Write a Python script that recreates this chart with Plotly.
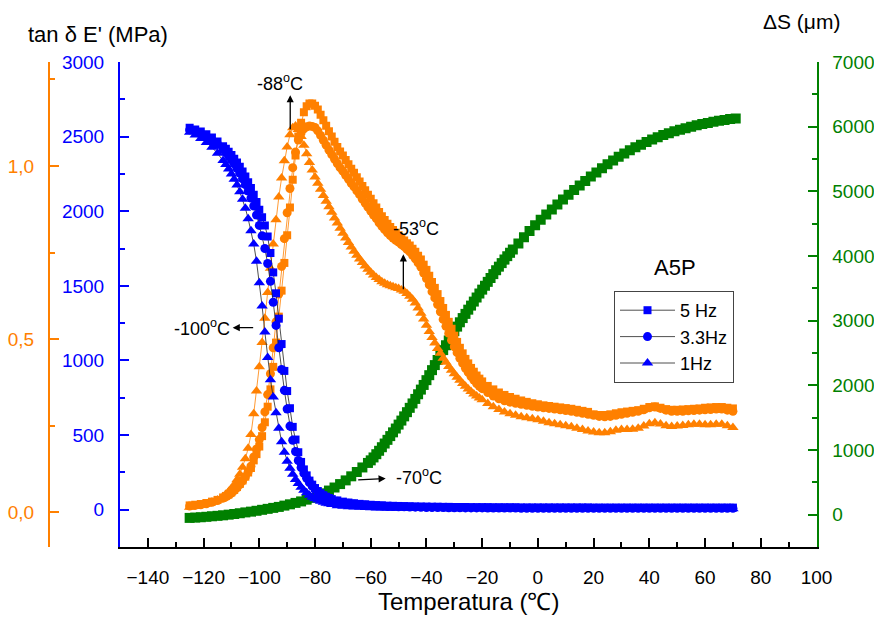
import plotly.graph_objects as go

# ---------------- data ----------------
# temperature grid (°C) for the E' series
T = [-125, -123, -121, -119, -117, -115, -113] + list(range(-112, -73)) + list(range(-72, 71, 2))
# temperature grid (°C) for the tan delta series
T_tan = [-125, -123, -121, -119, -117, -115, -113] + list(range(-112, -19)) + list(range(-18, 71, 2))

# E' (MPa)
E_5Hz = [2560, 2548, 2534, 2516, 2494, 2468, 2436,
         2418, 2398, 2376, 2352, 2326, 2298, 2266, 2232, 2195, 2155,
         2110, 2062, 2010, 1960, 1905, 1830, 1720, 1590, 1450, 1280,
         1110, 930, 795, 680, 555, 470, 385, 320, 270, 230,
         195, 168, 145, 125, 110, 97, 87, 78, 71,
         62, 54, 48, 43, 39, 36, 33, 31, 29, 27,
         26, 25, 24, 23, 22, 21, 21, 20, 20, 19,
         19, 18, 18, 18, 17, 17, 17, 17, 16, 16,
         16, 16, 16, 15, 15, 15,
         15, 15, 15, 15, 15, 15, 15, 15, 15, 15,
         14, 14, 14, 14, 14, 14, 14, 14, 14, 14,
         14, 14, 14, 14, 14, 14, 14, 14, 14, 14,
         14, 14, 14, 14, 14, 14]
E_33Hz = [2545, 2532, 2517, 2498, 2475, 2447, 2413,
          2393, 2370, 2345, 2318, 2288, 2255, 2218, 2178, 2135, 2088,
          2035, 1975, 1905, 1835, 1750, 1650, 1530, 1390, 1235, 1085,
          940, 800, 675, 560, 465, 390, 330, 282, 243, 210,
          182, 158, 138, 120, 105, 93, 83, 74, 67,
          57, 49, 43, 38, 34, 31, 28, 26, 24, 22,
          21, 20, 19, 18, 17, 16, 15, 15, 14, 14,
          13, 13, 13, 12, 12, 12, 12, 11, 11, 11,
          11, 11, 11, 10, 10, 10,
          10, 10, 10, 10, 10, 10, 10, 10, 10, 10,
          10, 10, 10, 10, 10, 10, 10, 10, 10, 10,
          10, 10, 10, 10, 10, 10, 10, 10, 10, 10,
          10, 10, 10, 10, 10, 10]
E_1Hz = [2530, 2510, 2488, 2460, 2428, 2388, 2340,
         2313, 2283, 2250, 2215, 2175, 2130, 2080, 2020, 1950, 1870,
         1780, 1665, 1520, 1365, 1190, 1020, 870, 755, 650, 545,
         455, 385, 325, 277, 237, 203, 175, 150, 130, 113,
         96, 84, 74, 65, 57, 50, 44, 39, 34,
         27, 23, 20, 18, 16, 14, 13, 12, 11, 10,
         10, 9, 9, 9, 8, 8, 8, 8, 8, 7,
         7, 7, 7, 7, 7, 7, 7, 7, 7, 7,
         6, 6, 6, 6, 6, 6,
         6, 6, 6, 6, 6, 6, 6, 6, 6, 6,
         6, 6, 6, 6, 6, 6, 6, 6, 6, 6,
         6, 6, 6, 6, 6, 6, 6, 6, 6, 6,
         6, 6, 6, 6, 6, 6]

# tan delta
tan_5Hz = [0.020, 0.022, 0.024, 0.027, 0.031, 0.036, 0.043,
           0.047, 0.052, 0.058, 0.065, 0.073, 0.082, 0.092, 0.103, 0.115, 0.128,
           0.150, 0.168, 0.190, 0.220, 0.260, 0.305, 0.355, 0.420, 0.490, 0.565,
           0.640, 0.720, 0.800, 0.880, 0.960, 1.030, 1.085, 1.125, 1.155, 1.172,
           1.180, 1.180, 1.174, 1.163, 1.148, 1.132, 1.116, 1.100, 1.085, 1.070,
           1.055, 1.042, 1.030, 1.017, 1.005, 0.992, 0.980, 0.967, 0.955, 0.942,
           0.930, 0.917, 0.905, 0.892, 0.880, 0.867, 0.855, 0.844, 0.833, 0.824,
           0.815, 0.807, 0.800, 0.792, 0.785, 0.777, 0.770, 0.761, 0.752, 0.741,
           0.730, 0.715, 0.700, 0.683, 0.665, 0.648, 0.630, 0.610, 0.590, 0.570,
           0.550, 0.530, 0.510, 0.492, 0.475, 0.459, 0.443, 0.430, 0.417, 0.406,
           0.395, 0.386, 0.378,
           0.365, 0.355, 0.346, 0.339, 0.333, 0.328, 0.323, 0.319, 0.315,
           0.312, 0.309, 0.307, 0.305, 0.303, 0.301, 0.299, 0.296, 0.293, 0.290,
           0.283, 0.281, 0.281, 0.283, 0.286, 0.289, 0.291, 0.293, 0.295, 0.299,
           0.304, 0.306, 0.302, 0.298, 0.296, 0.296, 0.297, 0.298, 0.299, 0.300,
           0.302, 0.303, 0.304, 0.304, 0.302, 0.300]
tan_33Hz = [0.018, 0.020, 0.022, 0.025, 0.029, 0.034, 0.041,
            0.045, 0.050, 0.056, 0.063, 0.071, 0.080, 0.091, 0.103, 0.117, 0.133,
            0.160, 0.183, 0.210, 0.245, 0.290, 0.340, 0.400, 0.475, 0.550, 0.630,
            0.710, 0.790, 0.865, 0.935, 0.995, 1.040, 1.075, 1.095, 1.107, 1.113,
            1.115, 1.114, 1.111, 1.101, 1.088, 1.074, 1.060, 1.046, 1.033, 1.020,
            1.007, 0.995, 0.985, 0.973, 0.962, 0.950, 0.940, 0.928, 0.917, 0.904,
            0.893, 0.881, 0.870, 0.858, 0.848, 0.836, 0.826, 0.816, 0.807, 0.799,
            0.792, 0.785, 0.780, 0.773, 0.767, 0.759, 0.752, 0.742, 0.732, 0.720,
            0.708, 0.691, 0.675, 0.657, 0.637, 0.619, 0.600, 0.579, 0.557, 0.537,
            0.517, 0.497, 0.478, 0.461, 0.445, 0.430, 0.416, 0.404, 0.392, 0.382,
            0.372, 0.364, 0.357,
            0.346, 0.336, 0.328, 0.322, 0.318, 0.315, 0.312, 0.309, 0.306,
            0.304, 0.302, 0.300, 0.298, 0.296, 0.294, 0.292, 0.289, 0.286, 0.283,
            0.280, 0.277, 0.276, 0.277, 0.280, 0.283, 0.286, 0.289, 0.292, 0.296,
            0.302, 0.304, 0.300, 0.295, 0.292, 0.292, 0.292, 0.293, 0.294, 0.295,
            0.296, 0.297, 0.298, 0.298, 0.295, 0.292]
tan_1Hz = [0.015, 0.017, 0.020, 0.024, 0.029, 0.036, 0.046,
           0.052, 0.060, 0.069, 0.080, 0.094, 0.110, 0.130, 0.155, 0.185, 0.225,
           0.285, 0.350, 0.420, 0.490, 0.560, 0.635, 0.705, 0.775, 0.845, 0.910,
           0.965, 1.015, 1.055, 1.090, 1.110, 1.115, 1.105, 1.085, 1.060, 1.035,
           1.010, 0.988, 0.968, 0.950, 0.933, 0.915, 0.898, 0.882, 0.866, 0.850,
           0.835, 0.820, 0.806, 0.792, 0.779, 0.766, 0.754, 0.742, 0.731, 0.721,
           0.711, 0.702, 0.693, 0.685, 0.678, 0.672, 0.666, 0.661, 0.657, 0.654,
           0.651, 0.648, 0.646, 0.642, 0.638, 0.632, 0.624, 0.615, 0.604, 0.590,
           0.575, 0.558, 0.540, 0.522, 0.505, 0.489, 0.473, 0.459, 0.445, 0.433,
           0.421, 0.410, 0.400, 0.390, 0.381, 0.372, 0.364, 0.356, 0.349, 0.342,
           0.336, 0.330, 0.325,
           0.314, 0.305, 0.297, 0.290, 0.285, 0.280, 0.276, 0.273, 0.270,
           0.267, 0.263, 0.259, 0.256, 0.253, 0.250, 0.247, 0.243, 0.239, 0.235,
           0.232, 0.230, 0.230, 0.233, 0.237, 0.239, 0.239, 0.240, 0.243, 0.249,
           0.256, 0.259, 0.255, 0.250, 0.248, 0.249, 0.251, 0.253, 0.254, 0.254,
           0.253, 0.253, 0.254, 0.254, 0.250, 0.245]

# Delta S (um)
T_S = list(range(-125, -60, 2)) + list(range(-60, -9)) + list(range(-9, 72, 2))
dS = [-50, -45, -40, -33, -25, -18, -10, 0, 10, 22,
      35, 47, 60, 75, 90, 105, 120, 140, 160, 182,
      205, 232, 260, 293, 330, 373, 420, 473, 530, 593,
      660, 730, 800,
      840, 885, 935, 988, 1043, 1100, 1157, 1215, 1273, 1332,
      1393, 1455, 1520, 1585, 1652, 1720, 1790, 1862, 1934, 2006,
      2080, 2157, 2235, 2313, 2392, 2470, 2545, 2620, 2694, 2768,
      2838, 2908, 2975, 3040, 3105, 3170, 3233, 3295, 3358, 3420,
      3480, 3540, 3600, 3660, 3720, 3780, 3835, 3890, 3944, 3998,
      4049,
      4100, 4195, 4290, 4385, 4475, 4562, 4642, 4720, 4798, 4873,
      4946, 5020, 5090, 5160, 5228, 5293, 5358, 5420, 5478, 5535,
      5585, 5635, 5680, 5722, 5762, 5800, 5836, 5870, 5900, 5928,
      5952, 5976, 6000, 6020, 6040, 6058, 6075, 6090, 6104, 6117,
      6128]

for arr in (E_5Hz, E_33Hz, E_1Hz):
    assert len(arr) == len(T), len(arr)
for arr in (tan_5Hz, tan_33Hz, tan_1Hz):
    assert len(arr) == len(T_tan), len(arr)
assert len(dS) == len(T_S), (len(dS), len(T_S))

series_names = ["5 Hz", "3.3Hz", "1Hz"]
symbols = ["square", "circle", "triangle-up"]
msizes = [8, 9, 10]

# ---------------- figure ----------------
W, H = 874, 617
BLUE, ORANGE, GREEN = "#0000FF", "#FF8000", "#008000"
FONT = "Liberation Sans, Arial, Helvetica, sans-serif"
TICKSIZE = 19

fig = go.Figure()

fig.add_trace(go.Scatter(x=T_S, y=dS, yaxis="y", mode="lines+markers",
                         marker=dict(symbol="square", size=10, color=GREEN, line=dict(width=0)),
                         line=dict(color=GREEN, width=1), showlegend=False, hoverinfo="skip"))

for name, vals, sym, ms in zip(series_names, [tan_5Hz, tan_33Hz, tan_1Hz], symbols, msizes):
    fig.add_trace(go.Scatter(x=T_tan, y=vals, yaxis="y2", mode="lines+markers",
                             marker=dict(symbol=sym, size=ms, color=ORANGE, line=dict(width=0)),
                             line=dict(color=ORANGE, width=0.8), showlegend=False, hoverinfo="skip"))

for name, vals, sym, ms in zip(series_names, [E_5Hz, E_33Hz, E_1Hz], symbols, msizes):
    fig.add_trace(go.Scatter(x=T, y=vals, yaxis="y3", mode="lines+markers", name=name,
                             marker=dict(symbol=sym, size=ms, color=BLUE, line=dict(width=0)),
                             line=dict(color="#222222", width=0.8), showlegend=True, hoverinfo="skip"))

ydom = [1 - 547 / H, 1 - 62 / H]

def yax(color, **kw):
    d = dict(showgrid=False, zeroline=False, showline=True, linewidth=2, linecolor=color,
             ticks="inside", ticklen=9, tickwidth=2, tickcolor=color, automargin=False,
             tickfont=dict(size=TICKSIZE, color=color, family=FONT), ticklabelstandoff=10)
    d.update(kw)
    return d

fig.update_layout(
    width=W, height=H, margin=dict(l=0, r=0, t=0, b=0, pad=0),
    paper_bgcolor="white", plot_bgcolor="white",
    font=dict(family=FONT, size=17, color="black"),
    xaxis=dict(domain=[120 / W, 816.5 / W], range=[-150, 100], tick0=0, dtick=20,
               showgrid=False, zeroline=False, showline=True, linewidth=2, linecolor="black",
               ticks="inside", ticklen=9, tickwidth=2, tickcolor="black", automargin=False,
               minor=dict(ticks="inside", ticklen=5, dtick=10, tickwidth=2, tickcolor="black"),
               tickfont=dict(size=TICKSIZE, color="black", family=FONT), ticklabelstandoff=12,
               anchor="y"),
    yaxis=yax(GREEN, domain=ydom, range=[-500, 7000], tick0=0, dtick=1000, side="right", anchor="x",
              minor=dict(ticks="inside", ticklen=5, dtick=500, tickwidth=2, tickcolor=GREEN)),
    yaxis2=yax(ORANGE, overlaying="y", anchor="free", position=49 / W, side="left",
               range=[-0.1, 1.3], tickmode="array", tickvals=[0, 0.5, 1.0],
               ticktext=["0,0", "0,5", "1,0"],
               minor=dict(ticks="inside", ticklen=5, tickmode="linear", tick0=0, dtick=0.25,
                          tickwidth=2, tickcolor=ORANGE)),
    yaxis3=yax(BLUE, overlaying="y", anchor="x", side="left", range=[-250, 3000], tick0=0, dtick=500,
               minor=dict(ticks="inside", ticklen=5, dtick=250, tickwidth=2, tickcolor=BLUE)),
    legend=dict(x=614 / W, y=1 - 291 / H, xanchor="left", yanchor="top",
                bordercolor="#444444", borderwidth=1, bgcolor="white",
                font=dict(size=18, color="black", family=FONT), itemwidth=55),
    showlegend=True,
)

ann = []
def text_paper(txt, x, y, size):
    ann.append(dict(text=txt, x=x / W, y=1 - y / H, xref="paper", yref="paper",
                    showarrow=False, font=dict(size=size, color="black", family=FONT),
                    xanchor="center", yanchor="middle"))

text_paper("tan \u03b4 E' (MPa)", 98, 35, 22)
text_paper("\u0394S (\u03bcm)", 801, 22, 21)
text_paper("Temperatura (\u2103)", 468, 601, 24)
text_paper("A5P", 675, 267, 22)

NB = "\u00a0"
def arrow_label(txt, xv, yv, yref, ax, ay, sstand=0):
    # arrow starts at the data point (x, y) and points to the label
    ann.append(dict(text=txt, x=xv, y=yv, xref="x", yref=yref, ax=ax, ay=ay,
                    axref="pixel", ayref="pixel", showarrow=True, arrowside="start",
                    startarrowhead=2, startarrowsize=1.1, arrowwidth=1.3, arrowcolor="black",
                    startstandoff=sstand,
                    font=dict(size=18, color="black", family=FONT)))

arrow_label("-88<sup>o</sup>C" + NB * 4, -88.9, 1.106, "y2", 0, -47, 0)
arrow_label(NB * 5 + "-53<sup>o</sup>C", -48.3, 0.644, "y2", 0, -62, 14)
arrow_label("-100<sup>o</sup>C", -102.2, 1220, "y3", -51, 0, 1)
arrow_label("-70<sup>o</sup>C", -64.5, 200, "y3", 61, -3, 9)

fig.update_layout(annotations=ann)

fig.write_html("out.html", config={"displayModeBar": False})
